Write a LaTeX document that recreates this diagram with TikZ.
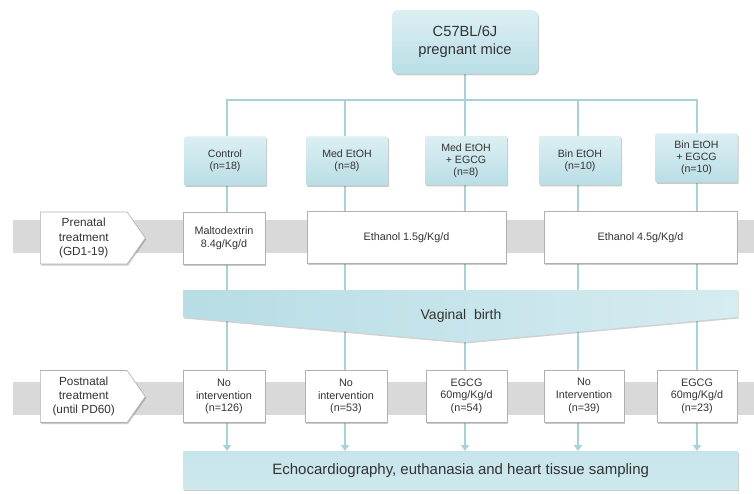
\documentclass[tikz,border=0pt]{standalone}
\usepackage{fontspec}
\setmainfont{Liberation Sans}
\usetikzlibrary{shadows,arrows.meta,shapes.symbols,calc,backgrounds}
\definecolor{lineblue}{HTML}{A9D1D9}
\definecolor{boxblue}{HTML}{C6E5EB}
\definecolor{boxblueTop}{HTML}{DCEFF3}
\definecolor{boxblueBot}{HTML}{B9DEE6}
\definecolor{bandgrey}{HTML}{D9D9D9}
\definecolor{edgegrey}{HTML}{B0B0B0}
\definecolor{txt}{HTML}{333333}
\tikzset{
  shade1/.style={drop shadow={shadow xshift=1pt,shadow yshift=-1.5pt,opacity=0.35,fill=black!60}},
  groupbox/.style={rectangle,rounded corners=1pt,top color=boxblueTop,bottom color=boxblueBot,draw=none,
    minimum width=82pt,minimum height=49pt,align=center,font=\fontsize{10.6}{12.2}\selectfont,text=txt,shade1},
  whitebox/.style={rectangle,fill=white,draw=edgegrey,line width=0.6pt,
    minimum height=52pt,align=center,font=\fontsize{10.8}{12.6}\selectfont,text=txt,shade1},
  labelarrow/.style={signal,signal to=east,signal pointer angle=110,fill=white,draw=edgegrey,line width=0.6pt,
    minimum width=105pt,minimum height=52pt,align=center,font=\fontsize{11.8}{14.4}\selectfont,text=txt,shade1,inner sep=1pt,
    anchor=west},
  conn/.style={draw=lineblue,line width=2.2pt},
  arr/.style={conn,-{Triangle[width=8pt,length=6pt]}},
}
\begin{document}
\begin{tikzpicture}[x=1pt,y=-1pt]
\useasboundingbox (0,0) rectangle (754,494);

% top node
\node[rectangle,rounded corners=6pt,top color=boxblueTop,bottom color=boxblueBot,minimum width=146pt,minimum height=64pt,
  align=center,font=\fontsize{14.7}{18}\selectfont,text=txt,shade1] (top) at (465,42) {C57BL/6J\\pregnant mice};

% group nodes
\node[groupbox] (g1) at (225,161) {Control\\(n=18)};
\node[groupbox] (g2) at (347,161) {Med EtOH\\(n=8)};
\node[groupbox] (g3) at (466,160.5) {Med EtOH\\+ EGCG\\(n=8)};
\node[groupbox] (g4) at (580,160.5) {Bin EtOH\\(n=10)};
\node[groupbox] (g5) at (696.5,158) {Bin EtOH\\+ EGCG\\(n=10)};

% prenatal row
\node[labelarrow] (pre) at (40,238) {Prenatal\\treatment\\(GD1-19)};
\node[whitebox,minimum width=82pt] (m1) at (224,238) {Maltodextrin\\8.4g/Kg/d};
\node[whitebox,minimum width=199pt] (e1) at (406.5,237.5) {Ethanol 1.5g/Kg/d};
\node[whitebox,minimum width=193pt] (e2) at (640.5,237.5) {Ethanol 4.5g/Kg/d};

% postnatal row
\node[labelarrow] (post) at (40,396.5) {Postnatal\\treatment\\(until PD60)};
\node[whitebox,minimum width=82pt] (p1) at (224,396.5) {No\\intervention\\(n=126)};
\node[whitebox,minimum width=82pt] (p2) at (346,396.5) {No\\intervention\\(n=53)};
\node[whitebox,minimum width=81pt] (p3) at (466.5,396) {EGCG\\60mg/Kg/d\\(n=54)};
\node[whitebox,minimum width=80pt] (p4) at (584,396) {No\\Intervention\\(n=39)};
\node[whitebox,minimum width=80pt] (p5) at (697,396) {EGCG\\60mg/Kg/d\\(n=23)};

% echo box
\node[rectangle,top color=boxblue,bottom color=boxblue!85!white,minimum width=555pt,minimum height=38pt,font=\fontsize{15}{18}\selectfont,text=txt,
  anchor=north west,shade1] (echo) at (183,451) {Echocardiography, euthanasia and heart tissue sampling};

% vaginal birth funnel
\shade[left color=boxblueBot!90!lineblue,right color=boxblueTop!70!boxblue,drop shadow={shadow xshift=0.5pt,shadow yshift=-1.5pt,opacity=0.3,fill=black!60}]
  (183,290) -- (738,290) -- (738,317) -- (465,342) -- (183,317) -- cycle;
\node[font=\fontsize{14}{16}\selectfont,text=txt] (vb) at (461,316) {Vaginal\ \ birth};

% column coordinates
\coordinate (c1) at (227,0);
\coordinate (c2) at (345,0);
\coordinate (c3) at (465,0);
\coordinate (c4) at (578,0);
\coordinate (c5) at (697,0);
\coordinate (j) at (465,100);

\begin{scope}[on background layer]
  % grey bands
  \fill[bandgrey] (13,220) rectangle (754,253);
  \fill[bandgrey] (13,382) rectangle (754,415);
  % tree
  \draw[conn] (top.south) -- (j);
  \draw[conn,line join=miter] (c1 |- g1.north) -- (c1 |- j) -- (c5 |- j) -- (c5 |- g5.north);
  \draw[conn] (c2 |- j) -- (c2 |- g2.north);
  \draw[conn] (c3 |- j) -- (c3 |- g3.north);
  \draw[conn] (c4 |- j) -- (c4 |- g4.north);
  % columns down to postnatal boxes
  \draw[conn] (c1 |- g1.south) -- (c1 |- p1.north);
  \draw[conn] (c2 |- g2.south) -- (c2 |- p2.north);
  \draw[conn] (c3 |- g3.south) -- (c3 |- p3.north);
  \draw[conn] (c4 |- g4.south) -- (c4 |- p4.north);
  \draw[conn] (c5 |- g5.south) -- (c5 |- p5.north);
  % arrows to echo box
  \draw[arr] (c1 |- p1.south) -- (c1 |- echo.north);
  \draw[arr] (c2 |- p2.south) -- (c2 |- echo.north);
  \draw[arr] (c3 |- p3.south) -- (c3 |- echo.north);
  \draw[arr] (c4 |- p4.south) -- (c4 |- echo.north);
  \draw[arr] (c5 |- p5.south) -- (c5 |- echo.north);
\end{scope}
\end{tikzpicture}
\end{document}
